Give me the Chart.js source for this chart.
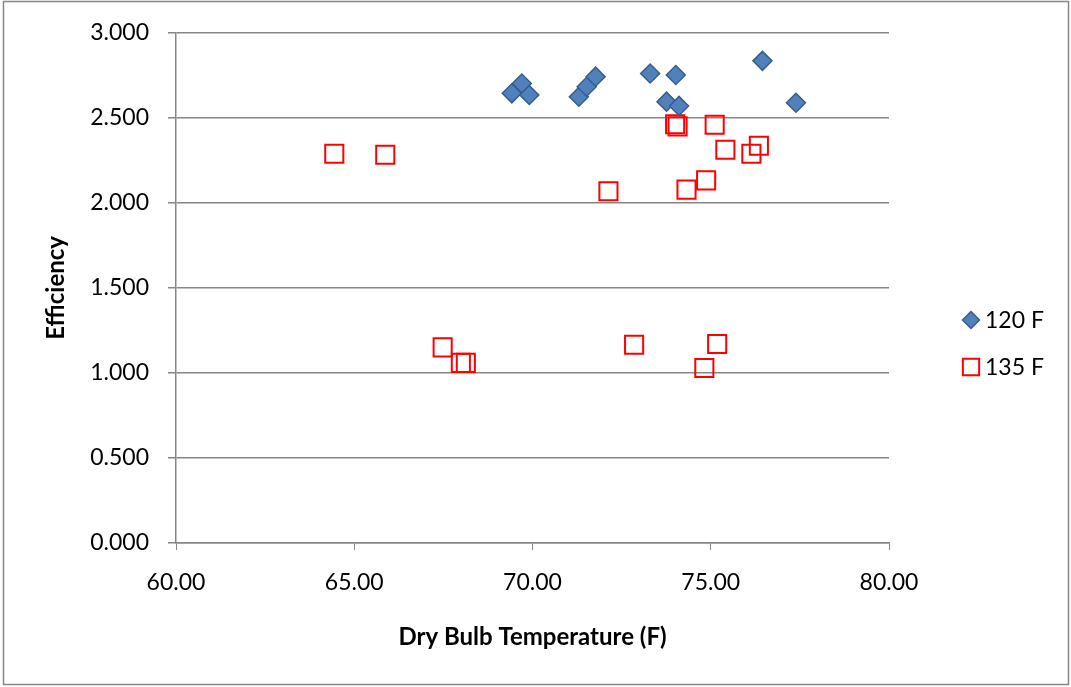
<!DOCTYPE html>
<html>
<head>
<meta charset="utf-8">
<script src="https://cdn.jsdelivr.net/npm/chart.js@4/dist/chart.umd.min.js"></script>
<style>
  body { margin: 0; background: #fff; }
  canvas { display: block; }
</style>
</head>
<body>
<canvas id="effChart" width="1071" height="687"></canvas>
<script>
// dry bulb temperature (F) and efficiency readings, one pair of arrays per supply temp
const temp120 = [69.42, 69.70, 69.91, 71.30, 71.52, 71.77, 73.30, 74.02, 73.76, 74.11, 76.45, 77.39];
const eff120 = [2.644, 2.702, 2.634, 2.624, 2.683, 2.742, 2.761, 2.752, 2.595, 2.570, 2.835, 2.589];

const temp135 = [64.44, 65.87, 74.00, 74.07, 75.11, 75.41, 76.35, 76.14, 74.87, 74.32, 72.13, 67.48, 67.99, 68.13, 72.85, 75.18, 74.82];
const eff135 = [2.289, 2.283, 2.462, 2.450, 2.459, 2.312, 2.336, 2.289, 2.132, 2.078, 2.068, 1.150, 1.059, 1.059, 1.166, 1.170, 1.029];

const seriesLabels = ['120 F', '135 F'];

const axisGray = '#868686';
const font = 'Lato, "Liberation Sans", sans-serif';

function toPoints(xs, ys) {
  return xs.map((x, i) => ({ x: x, y: ys[i] }));
}

// frame around the whole chart + legend on the right
const framePlugin = {
  id: 'frame',
  beforeDraw(chart) {
    const ctx = chart.ctx;
    ctx.save();
    ctx.fillStyle = '#fff';
    ctx.fillRect(0, 0, chart.width, chart.height);
    ctx.strokeStyle = axisGray;
    ctx.lineWidth = 1.5;
    ctx.strokeRect(3.5, 1.5, 1065, 683);
    ctx.restore();
  },
  afterDraw(chart) {
    const ctx = chart.ctx;
    const rows = [320, 367];
    ctx.save();
    chart.data.datasets.forEach((ds, i) => {
      const y = rows[i];
      ctx.fillStyle = ds.backgroundColor;
      ctx.strokeStyle = ds.borderColor;
      ctx.lineWidth = ds.borderWidth;
      Chart.helpers.drawPoint(ctx, {
        pointStyle: ds.pointStyle,
        radius: i === 0 ? 8.5 : 11.5,
        borderWidth: ds.borderWidth,
        rotation: 0
      }, 971, y);
      ctx.fillStyle = '#000';
      ctx.font = '23px ' + font;
      ctx.textBaseline = 'middle';
      ctx.textAlign = 'left';
      ctx.fillText(ds.label, 985, y + 1);
    });
    ctx.restore();
  }
};

const ctx = document.getElementById('effChart').getContext('2d');
const effChart = new Chart(ctx, {
  type: 'scatter',
  data: {
    datasets: [
      {
        label: seriesLabels[0],
        data: toPoints(temp120, eff120),
        pointStyle: 'rectRot',
        pointRadius: 9.5,
        pointHoverRadius: 9.5,
        backgroundColor: '#4F81BD',
        borderColor: '#385D8A',
        borderWidth: 1.5,
      },
      {
        label: seriesLabels[1],
        data: toPoints(temp135, eff135),
        pointStyle: 'rect',
        pointRadius: 12.8,
        pointHoverRadius: 12.8,
        backgroundColor: 'rgba(0,0,0,0)',
        borderColor: '#FF0000',
        borderWidth: 2,
      },
    ],
  },
  options: {
    responsive: false,
    animation: false,
    layout: {
      padding: { left: 38, right: 182, top: 30, bottom: 35 },
    },
    plugins: {
      legend: { display: false },
      tooltip: { enabled: false },
    },
    scales: {
      x: {
        type: 'linear',
        min: 60,
        max: 80,
        afterFit(scale) { scale.height = 109; },
        ticks: {
          stepSize: 5,
          padding: 19,
          color: '#000',
          font: { family: font, size: 23 },
          callback: (v) => v.toFixed(2),
        },
        grid: {
          drawOnChartArea: false,
          drawTicks: true,
          tickLength: 7,
          color: axisGray,
        },
        border: { color: axisGray, width: 1.5 },
        title: {
          display: true,
          text: 'Dry Bulb Temperature (F)',
          color: '#000',
          font: { family: font, size: 24, weight: 'bold' },
          padding: 0,
        },
      },
      y: {
        min: 0,
        max: 3,
        afterFit(scale) { scale.width = 138; },
        ticks: {
          stepSize: 0.5,
          padding: 19,
          color: '#000',
          font: { family: font, size: 23 },
          callback: (v) => v.toFixed(3),
        },
        grid: {
          color: axisGray,
          lineWidth: 1.5,
          drawTicks: true,
          tickLength: 8,
        },
        border: { color: axisGray, width: 1.5 },
        title: {
          display: true,
          text: 'Efficiency',
          color: '#000',
          font: { family: font, size: 24, weight: 'bold' },
          padding: { top: 4, bottom: 0 },
        },
      },
    },
  },
  plugins: [framePlugin],
});
</script>
</body>
</html>
